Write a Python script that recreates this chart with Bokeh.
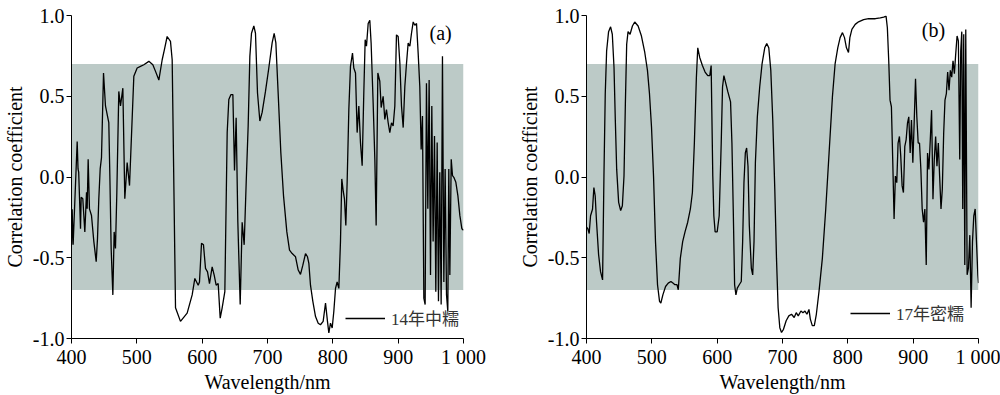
from bokeh.plotting import figure
from bokeh.layouts import row
from bokeh.models import Range1d, FixedTicker, Legend, LegendItem, Label
from bokeh.embed import file_html
from bokeh.resources import INLINE

# ---------------- data ----------------
wl_a = [400, 401, 402.5, 408.7, 410, 411, 413.8, 414.8, 417.3, 420.4, 423, 424, 425.5, 427.5, 430.6,
        434.2, 437.8, 439.8, 441.8, 443.9, 445.9, 449, 452, 455.1, 457.1, 458.7, 460.7, 463.3, 465.3,
        467.3, 469.4, 472.4, 475, 478.6, 481.6, 485.2, 488.8, 495.4, 500.5, 505.6, 510.7, 518.4, 524.5,
        528.6, 533.7, 538.8, 542.3, 546.4, 551.5, 554.1, 559.2, 566.8, 577, 584.7, 588.8, 593.9, 595.9,
        599, 602, 605.1, 608.2, 611.2, 615.3, 618.4, 621.4, 624.5, 627.6, 630.6, 634.7, 638.3, 640.8,
        643.9, 647, 649.5, 652, 654.6, 658.2, 661.2, 664.3, 667.4, 670.4, 673, 675.5, 679.1, 681.6,
        684.7, 688.3, 691.8, 696.9, 702, 707.1, 710.2, 712.8, 716.3, 720.4, 724.5, 729.6, 733.7, 737.8,
        742.9, 747, 750.5, 754.1, 758.2, 761.2, 763.3, 765.8, 769.4, 773.5, 777.6, 781.1, 785.2, 788.8,
        791.8, 793.9, 796.4, 799, 801.5, 804.1, 806.6, 809.2, 811.7, 813.7, 815.8, 817.8, 819.9, 821.9,
        824.5, 827, 830.1, 832.1, 834.7, 837.2, 839.8, 842.3, 844.9, 847.4, 849.5, 851.5, 854.1, 856.6,
        858.6, 861.7, 864.3, 866.3, 868.9, 871.9, 874, 877, 879.6, 882.1, 884.7, 887.2, 889.8, 892.3,
        894.9, 897.4, 900, 902.6, 905.1, 907.7, 910.2, 912.8, 915.3, 917.9, 920.4, 923, 925.5, 928.1,
        930.6, 933.1, 935.2, 937.2, 939.3, 941.3, 943.3, 945.4, 947.4, 949.5, 951.5, 953.5, 955.6,
        957.6, 959.7, 961.7, 963.7, 965.8, 967.8, 969.9, 971.9, 974, 976, 977.5, 979.1, 981.2, 983.2,
        985.2, 988.3, 991.4, 994.4, 997.5, 1000]
r_a = [-0.42, -0.20, -0.42, 0.22, 0.05, 0.03, -0.32, -0.125, -0.135, -0.34, -0.094, -0.197, 0.11, -0.197,
       -0.238, -0.40, -0.525, -0.38, -0.135, 0.05, 0.12, 0.644, 0.44, 0.377, 0.336, 0.008, -0.443, -0.73,
       -0.34, -0.443, -0.094, 0.53, 0.44, 0.55, -0.135, 0.09, -0.053, 0.624, 0.675, 0.685, 0.695, 0.716,
       0.695, 0.654, 0.60, 0.726, 0.79, 0.87, 0.84, 0.726, -0.81, -0.894, -0.843, -0.73, -0.628, -0.67,
       -0.65, -0.41, -0.42, -0.566, -0.587, -0.66, -0.556, -0.607, -0.67, -0.66, -0.874, -0.81, -0.71,
       0.275, 0.48, 0.51, 0.51, 0.04, 0.367, -0.28, -0.79, -0.28, -0.42, -0.033, 0.316, 0.747, 0.89,
       0.935, 0.89, 0.52, 0.347, 0.40, 0.53, 0.675, 0.83, 0.89, 0.83, 0.52, 0.152, -0.115, -0.34, -0.453,
       -0.474, -0.494, -0.576, -0.603, -0.546, -0.474, -0.494, -0.535, -0.67, -0.77, -0.864, -0.905,
       -0.915, -0.894, -0.78, -0.894, -0.966, -0.905, -0.935, -0.833, -0.69, -0.65, -0.69, -0.40, -0.012,
       -0.084, -0.135, -0.30, -0.033, 0.418, 0.685, 0.767, 0.675, 0.644, 0.275, 0.44, 0.213, 0.07, 0.52,
       0.85, 0.81, 0.95, 0.97, 0.83, 0.46, 0.11, -0.30, 0.644, 0.593, 0.43, 0.50, 0.357, 0.418, 0.336,
       0.275, 0.336, 0.316, 0.44, 0.88, 0.87, 0.705, 0.44, 0.306, 0.56, 0.705, 0.83, 0.81, 0.89, 0.96,
       0.94, 0.95, 0.767, 0.56, 0.17, 0.377, -0.75, -0.79, 0.58, -0.197, 0.60, -0.607, 0.44, -0.40, 0.254,
       -0.71, 0.213, -0.77, 0.03, -0.79, 0.747, -0.65, 0.05, -0.73, -0.833, 0.05, -0.607, 0.11, 0.008,
       -0.002, -0.033, -0.115, -0.238, -0.32, -0.33]

wl_b = [400, 402, 404.1, 406.2, 409.2, 411.3, 413.3, 415.4, 418.5, 421.5, 424.6, 426.7, 428.7, 430.8,
        433.8, 436.9, 439.5, 442.1, 444.1, 446.2, 449.2, 452.3, 454.9, 457.4, 459.5, 461.5, 463.6, 466.7,
        470.3, 473.8, 479, 484.1, 489.2, 493.3, 496.4, 499.5, 502.6, 505.6, 508.7, 511.8, 513.8, 516.9,
        521, 525.1, 529.2, 532.3, 535.4, 538.5, 540.5, 543.6, 547.2, 550.8, 554.9, 559, 562.1, 565.1,
        568.2, 570.3, 573.3, 577.4, 581.5, 585.6, 588.7, 590.8, 591.8, 593.3, 594.9, 596.9, 600, 603.1,
        606.2, 608.2, 610.3, 613.3, 616.4, 620.5, 622.6, 624.6, 626.7, 628.7, 630.8, 633.8, 636.9, 639,
        641, 643.1, 645.1, 647.2, 649.2, 652.3, 654.4, 656.4, 658.5, 661.5, 665.1, 668.7, 672.8, 675.9,
        679, 682.1, 685.1, 688.2, 690.8, 693.3, 695.9, 698.5, 701.5, 705.6, 709.7, 713.8, 717.9, 721,
        724.1, 728.2, 731.3, 734.4, 737.4, 740.5, 742.6, 745.6, 748.7, 751.8, 755.9, 761, 766.2, 771.3,
        776.4, 780.5, 784.6, 788.2, 791.8, 794.9, 797.9, 801, 803.1, 806.2, 811.3, 816.4, 824.1, 831.8,
        842.1, 849.7, 854.9, 858.5, 860.5, 862.6, 864.6, 866.7, 868.7, 870.8, 872.8, 874.9, 876.9, 879,
        881, 883.1, 885.1, 887.2, 889.2, 891.3, 893.3, 895.4, 897.4, 899.5, 901.5, 903.6, 905.6, 907.7,
        909.7, 911.8, 913.8, 915.9, 917.9, 920, 922, 924.1, 926.2, 928.2, 930.3, 932.3, 934.4, 936.4,
        938.5, 940.5, 942.6, 944.6, 946.7, 948.7, 950.8, 952.8, 954.9, 956.9, 959, 961, 963.1, 965.1,
        967.2, 969.2, 971.3, 972.8, 974.4, 975.9, 977.4, 979, 980.5, 982.6, 984.6, 986.7, 988.7, 990.8,
        992.8, 994.9, 996.9, 999, 1000]
r_b = [-0.31, -0.32, -0.35, -0.24, -0.20, -0.065, -0.116, -0.28, -0.48, -0.586, -0.637, 0.006, 0.516,
       0.78, 0.90, 0.93, 0.884, 0.68, 0.353, 0.047, -0.157, -0.208, -0.178, 0.006, 0.455, 0.822, 0.90,
       0.884, 0.935, 0.96, 0.935, 0.873, 0.771, 0.66, 0.516, 0.31, 0.006, -0.40, -0.667, -0.77, -0.78,
       -0.73, -0.678, -0.657, -0.647, -0.657, -0.667, -0.667, -0.698, -0.504, -0.40, -0.34, -0.28,
       -0.198, -0.096, 0.21, 0.618, 0.80, 0.74, 0.69, 0.65, 0.628, 0.628, 0.69, 0.414, 0.006, -0.24,
       -0.34, -0.34, -0.24, 0.21, 0.557, 0.628, 0.578, 0.527, 0.465, 0.21, -0.198, -0.667, -0.73, -0.688,
       -0.667, -0.647, -0.40, -0.035, 0.149, 0.18, 0.067, -0.30, -0.565, -0.606, -0.40, 0.088, 0.373,
       0.557, 0.70, 0.80, 0.826, 0.80, 0.66, 0.353, -0.075, -0.504, -0.81, -0.933, -0.963, -0.943, -0.89,
       -0.86, -0.85, -0.87, -0.84, -0.86, -0.83, -0.84, -0.83, -0.85, -0.82, -0.88, -0.92, -0.92, -0.85,
       -0.708, -0.504, -0.198, 0.149, 0.496, 0.70, 0.80, 0.863, 0.894, 0.863, 0.80, 0.771, 0.863, 0.914,
       0.945, 0.961, 0.975, 0.98, 0.98, 0.985, 0.99, 0.996, 0.924, 0.72, 0.476, 0.435, 0.108, -0.26,
       0.006, -0.035, 0.21, 0.251, 0.129, -0.055, -0.096, 0.19, 0.23, 0.333, 0.373, 0.149, 0.353, 0.088,
       0.333, 0.608, 0.373, 0.21, 0.21, 0.047, -0.198, -0.28, -0.198, -0.545, 0.149, 0.047, 0.23, 0.414,
       -0.137, 0.108, 0.251, 0.067, 0.21, 0.006, -0.198, -0.075, 0.271, 0.476, 0.516, 0.65, 0.537, 0.66,
       0.618, 0.72, 0.64, 0.761, 0.873, 0.843, 0.108, 0.78, 0.90, -0.198, 0.884, -0.545, 0.914, -0.606,
       -0.565, -0.36, -0.81, -0.40, -0.24, -0.198, -0.40, -0.606, -0.657]

band_low, band_high = -0.7, 0.7
x_ticks = [400, 500, 600, 700, 800, 900, 1000]
x_tick_labels = ["400", "500", "600", "700", "800", "900", "1 000"]
y_ticks = [-1.0, -0.5, 0.0, 0.5, 1.0]
y_tick_labels = ["-1.0", "-0.5", "0.0", "0.5", "1.0"]
series_names = ["14年中糯", "17年密糯"]
panel_tags = ["(a)", "(b)"]

FONT = "Liberation Serif"
CJK = "Liberation Serif, Noto Sans CJK SC"


def make_panel(wl, r, name, tag, tag_pos, border_left, border_right, legend_loc):
    p = figure(width=border_left + 392 + border_right, height=395,
               x_range=Range1d(400, 1000), y_range=Range1d(-1, 1),
               output_backend="svg", toolbar_location=None,
               min_border_left=border_left, min_border_right=border_right,
               min_border_top=15, min_border_bottom=54)
    p.outline_line_color = None
    p.grid.visible = False
    p.background_fill_color = "white"
    p.border_fill_color = "white"

    p.quad(left=[x_ticks[0]], right=[x_ticks[-1]], bottom=[band_low], top=[band_high],
           fill_color="#bccac7", line_color=None)
    line = p.line(wl, r, line_color="black", line_width=1.3)

    for ax in (p.xaxis[0], p.yaxis[0]):
        ax.axis_line_color = "black"
        ax.axis_line_width = 1
        ax.major_tick_line_color = "black"
        ax.major_tick_in = 0
        ax.major_tick_out = 5
        ax.minor_tick_line_color = None
        ax.major_label_text_font = FONT
        ax.major_label_text_font_size = "20px"
        ax.major_label_text_color = "black"
        ax.axis_label_text_font = FONT
        ax.axis_label_text_font_size = "20px"
        ax.axis_label_text_font_style = "normal"
        ax.axis_label_text_color = "black"
        ax.axis_label_standoff = 0
        ax.major_label_standoff = 2
    p.yaxis[0].axis_label_standoff = 4

    p.xaxis[0].ticker = FixedTicker(ticks=x_ticks)
    p.xaxis[0].major_label_overrides = dict(zip(x_ticks, x_tick_labels))
    p.yaxis[0].ticker = FixedTicker(ticks=y_ticks)
    p.yaxis[0].major_label_overrides = dict(zip(y_ticks, y_tick_labels))
    p.xaxis[0].axis_label = "Wavelength/nm"
    p.yaxis[0].axis_label = "Correlation coefficient"

    legend = Legend(items=[LegendItem(label=name, renderers=[line])],
                    location=legend_loc, glyph_width=40, glyph_height=20,
                    label_text_font=CJK, label_text_font_size="17px",
                    label_text_color="#333333", label_standoff=6,
                    border_line_color=None, background_fill_alpha=0,
                    padding=0, margin=0)
    p.add_layout(legend)

    p.add_layout(Label(x=tag_pos[0], y=tag_pos[1], text=tag, text_font=FONT,
                       text_font_size="20px", text_align="center",
                       text_baseline="middle", text_color="black"))
    return p


p1 = make_panel(wl_a, r_a, series_names[0], panel_tags[0], (965, 0.89), 71, 37, (274, 8))
p2 = make_panel(wl_b, r_b, series_names[1], panel_tags[1], (931, 0.91), 86, 22, (264, 13))

layout = row(p1, p2, spacing=0)
open("out.html", "w").write(file_html(layout, INLINE))
